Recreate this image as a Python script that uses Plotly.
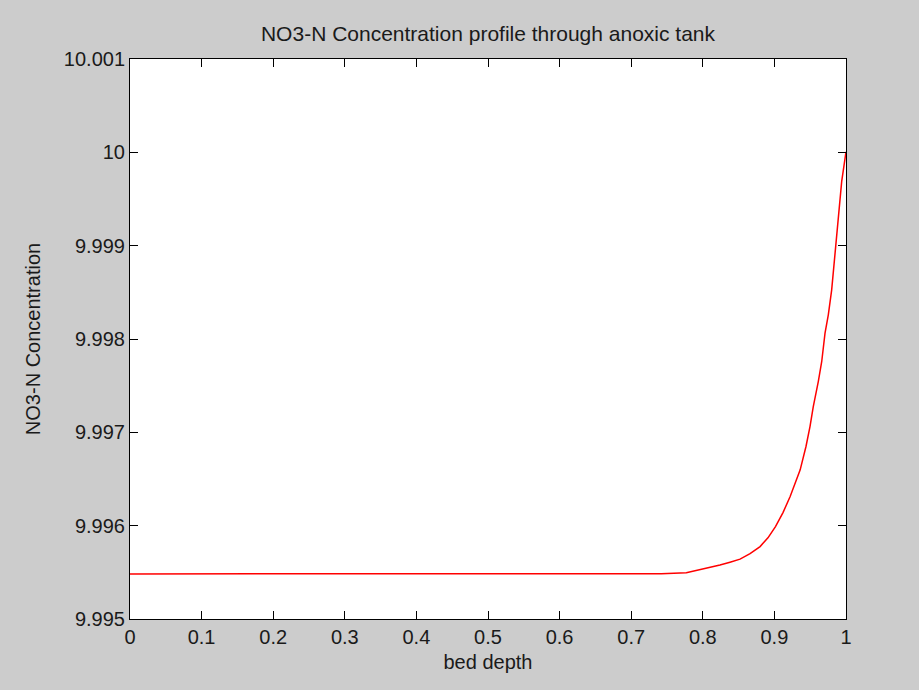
import plotly.graph_objects as go

# Data
bed_depth = [0.0, 0.1, 0.2, 0.3, 0.4, 0.5, 0.6, 0.7, 0.742, 0.777, 0.796, 0.81, 0.824,
             0.838, 0.852, 0.866, 0.880, 0.891, 0.9015, 0.912, 0.922, 0.936, 0.9441,
             0.9497, 0.9543, 0.9613, 0.9661, 0.9707, 0.9753, 0.9800, 0.9846, 0.9893,
             0.9940, 1.0]
no3_conc = [9.995483, 9.995483, 9.995483, 9.995483, 9.995483, 9.995483, 9.995483,
            9.995483, 9.995486, 9.995495, 9.995526, 9.995552, 9.995579, 9.995609,
            9.995641, 9.995700, 9.995776, 9.995870, 9.995990, 9.996140, 9.996312,
            9.996598, 9.996848, 9.997062, 9.997276, 9.997544, 9.997759, 9.998063,
            9.998259, 9.998527, 9.998921, 9.999278, 9.999688, 10.000006]

x_ticks = [0, 0.1, 0.2, 0.3, 0.4, 0.5, 0.6, 0.7, 0.8, 0.9, 1]
x_tick_labels = ["0", "0.1", "0.2", "0.3", "0.4", "0.5", "0.6", "0.7", "0.8", "0.9", "1"]
y_ticks = [9.995, 9.996, 9.997, 9.998, 9.999, 10.0, 10.001]
y_tick_labels = ["9.995", "9.996", "9.997", "9.998", "9.999", "10", "10.001"]

FONT = "Liberation Sans, Arial, sans-serif"

fig = go.Figure()
fig.add_trace(go.Scatter(x=bed_depth, y=no3_conc, mode="lines",
                         line=dict(color="#ff0000", width=1.5),
                         showlegend=False, hoverinfo="x+y"))

axis_common = dict(
    showgrid=False, zeroline=False, showline=True, linecolor="#000000",
    linewidth=1, mirror="allticks", ticks="inside", ticklen=8, tickwidth=1,
    tickcolor="#000000", tickfont=dict(family=FONT, size=20, color="#1a1a1a"),
)

fig.update_layout(
    width=919, height=690,
    paper_bgcolor="#cccccc", plot_bgcolor="#ffffff",
    margin=dict(l=130, r=73, t=59, b=71),
    title=dict(text="NO3-N Concentration profile through anoxic tank",
               font=dict(family=FONT, size=21, color="#1a1a1a"),
               x=0.5, xref="paper", xanchor="center",
               y=1 - 34 / 690, yref="container", yanchor="middle"),
    xaxis=dict(range=[0, 1], tickmode="array", tickvals=x_ticks,
               ticktext=x_tick_labels,
               title=dict(text="bed depth", font=dict(family=FONT, size=20, color="#1a1a1a"),
                          standoff=7),
               **axis_common),
    yaxis=dict(range=[9.995, 10.001], tickmode="array", tickvals=y_ticks,
               ticktext=y_tick_labels,
               title=dict(text="NO3-N Concentration", font=dict(family=FONT, size=20, color="#1a1a1a"),
                          standoff=17),
               **axis_common),
)

fig.write_html("out.html")
